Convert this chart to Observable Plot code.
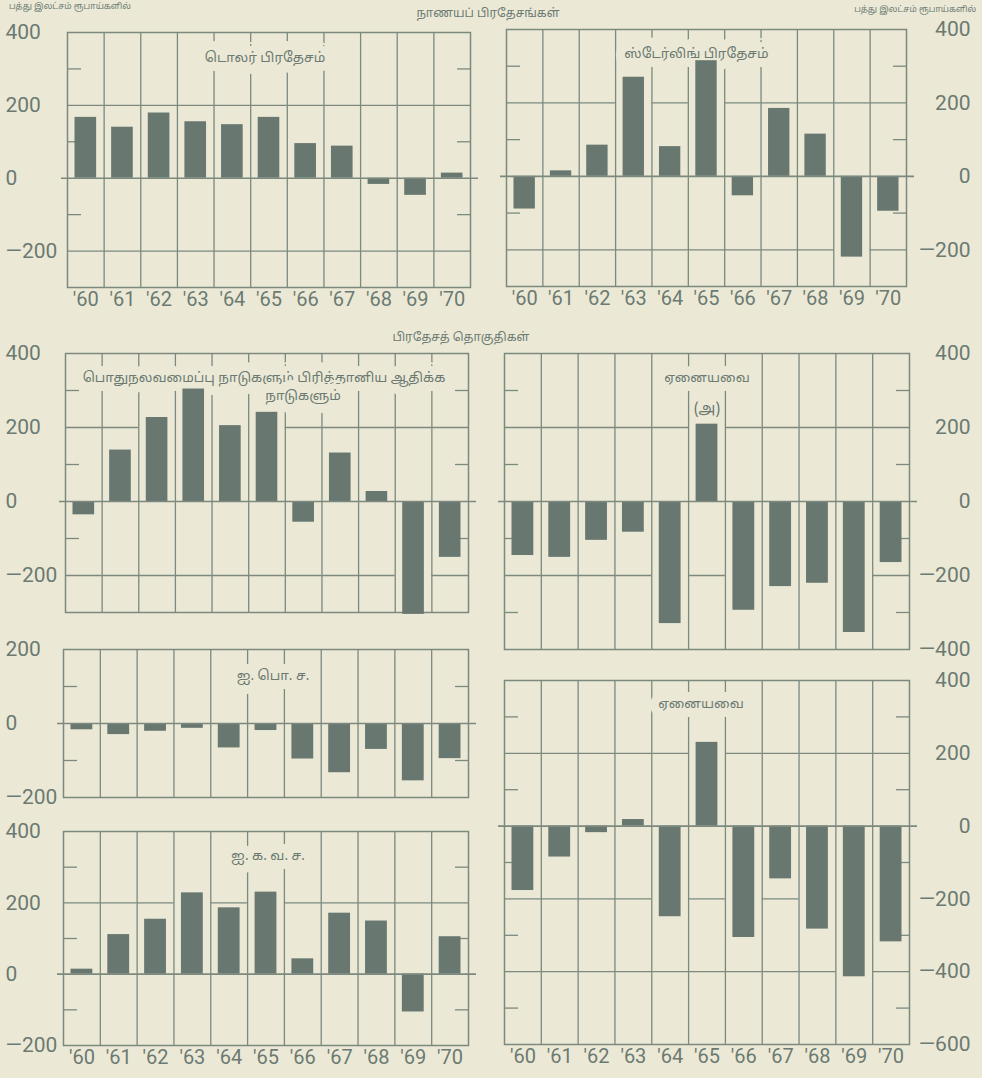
<!DOCTYPE html>
<html>
<head>
<meta charset="utf-8">
<script src="https://cdn.jsdelivr.net/npm/d3@7"></script>
<script src="https://cdn.jsdelivr.net/npm/@observablehq/plot@0.6"></script>
<style>
  html, body { margin: 0; padding: 0; background: #ebe9d6; }
  #page { position: relative; width: 982px; height: 1078px; background: #ebe9d6; overflow: hidden;
          font-family: "Noto Sans Tamil", "Lohit Tamil", "Noto Sans", sans-serif; color: #6b7a72; }
  .hdr { position: absolute; white-space: nowrap; line-height: 1; }
  .panel { position: absolute; }
</style>
</head>
<body>
<div id="page"></div>
<script>
// ---------- data ----------
const years = [1960, 1961, 1962, 1963, 1964, 1965, 1966, 1967, 1968, 1969, 1970];
const yearLabels = ["'60", "'61", "'62", "'63", "'64", "'65", "'66", "'67", "'68", "'69", "'70"];

// currency areas (ten lakhs of rupees)
const dollarArea   = [167, 140, 179, 155, 147, 167, 95, 88, -17, -47, 14];
const sterlingArea = [-89, 15, 85, 270, 81, 315, -53, 185, 115, -220, -95];
// regional groups
const commonwealth = [-36, 139, 227, 304, 205, 241, -56, 131, 27, -305, -151];
const othersA      = [-146, -151, -105, -83, -330, 209, -294, -230, -221, -354, -165];
const eec          = [-17, -30, -21, -13, -66, -19, -96, -133, -70, -155, -95];
const efta         = [14, 111, 154, 228, 186, 230, 43, 171, 149, -106, 105];
const othersB      = [-177, -85, -18, 18, -249, 230, -306, -145, -283, -414, -318];

const unitLabel = "பத்து இலட்சம் ரூபாய்களில்";
const heading1 = "நாணயப் பிரதேசங்கள்";
const heading2 = "பிரதேசத் தொகுதிகள்";
const noteLabel = "(அ)";

// ---------- style ----------
const BG = "#ebe9d6";
const LINE = "#7b897f";
const BAR = "#687770";
const TEXT = "#6b7a72";
const NUMFONT = "Roboto, 'Liberation Sans', sans-serif";
const TAMILFONT = "'Noto Sans Tamil', 'Lohit Tamil', 'Noto Sans', sans-serif";

const page = document.getElementById("page");

function addHeader(text, css) {
  const d = document.createElement("div");
  d.className = "hdr";
  d.textContent = text;
  Object.assign(d.style, css);
  page.appendChild(d);
}
addHeader(unitLabel, {left: "9px", top: "3px", fontSize: "8.5px"});
addHeader(unitLabel, {right: "6px", top: "6px", fontSize: "8.5px"});
addHeader(heading1, {left: "488px", top: "8px", fontSize: "12px", transform: "translateX(-50%)"});
addHeader(heading2, {left: "461px", top: "332px", fontSize: "12px", transform: "translateX(-50%)"});

const fmtY = d => d < 0 ? "\u2014" + Math.abs(d) : String(d);

// layout of each panel: frame [left, top, right, bottom] in page pixels
const panels = [
  {values: dollarArea, titles: [{t: "டொலர் பிரதேசம்", dx: -4, dy: 20}], domain: [-300, 400], side: "left", frame: [67, 32, 470, 287], xAxis: true},
  {values: sterlingArea, titles: [{t: "ஸ்டேர்லிங் பிரதேசம்", dx: -10, dy: 19}], domain: [-300, 400], side: "right", frame: [506, 29, 906, 286], xAxis: true},
  {values: commonwealth, titles: [{t: "பொதுநலவமைப்பு நாடுகளும் பிரித்தானிய ஆதிக்க", dx: -3, dy: 19}, {t: "நாடுகளும்", dx: 36, dy: 37}], domain: [-300, 400], side: "left", frame: [65, 353, 468, 612]},
  {values: othersA, titles: [{t: "ஏனையவை", dx: 0, dy: 19}], domain: [-400, 400], side: "right", frame: [504, 353, 909, 649], note: 5},
  {values: eec, titles: [{t: "ஐ. பொ. ச.", dx: 7, dy: 21}], domain: [-200, 200], side: "left", frame: [63, 649, 468, 797]},
  {values: efta, titles: [{t: "ஐ. க. வ. ச.", dx: 2, dy: 19}], domain: [-200, 400], side: "left", frame: [63, 831, 468, 1045], xAxis: true},
  {values: othersB, titles: [{t: "ஏனையவை", dx: -6, dy: 18}], domain: [-600, 400], side: "right", frame: [504, 680, 909, 1044], xAxis: true}
];

for (const p of panels) {
  const [fl, ft, fr, fb] = p.frame;
  const svgLeft = p.side === "left" ? 0 : 491;
  const svgW = 491;
  const padTop = 16;
  const padBottom = p.xAxis ? 34 : 16;
  const mL = fl - svgLeft;
  const mR = svgLeft + svgW - fr;
  const innerW = fr - fl;
  const [lo, hi] = p.domain;
  const data = years.map((year, i) => ({year, label: yearLabels[i], value: p.values[i]}));

  const hundreds = d3.range(lo, hi + 1, 100);
  const major = hundreds.filter(v => v % 200 === 0);
  const minor = hundreds.filter(v => Math.abs(v % 200) === 100 && v > lo && v < hi);
  const grid = major.filter(v => v !== 0 && v > lo && v < hi);
  const segs = [];
  for (const g of grid) {
    for (const d of data) {
      const crosses = g > 0 ? d.value >= g : d.value <= g;
      if (!crosses) segs.push({g, x1: d.year, x2: d.year + 1});
    }
  }

  const marks = [
    Plot.ruleX(years.slice(1), {stroke: LINE, strokeWidth: 1.3}),
    Plot.ruleY(segs, {y: "g", x1: "x1", x2: "x2", stroke: LINE, strokeWidth: 1.3}),
    Plot.ruleY(minor, {insetRight: innerW - 14, stroke: LINE, strokeWidth: 1.3}),
    Plot.ruleY(minor, {insetLeft: innerW - 13, stroke: LINE, strokeWidth: 1.3}),
    Plot.frame({stroke: LINE, strokeWidth: 1.5}),
    ...p.titles.map(tt => Plot.text([tt.t], {
      text: d => d, frameAnchor: "top", dx: tt.dx, dy: tt.dy,
      fontSize: 13.5, fontFamily: TAMILFONT, fill: TEXT,
      stroke: BG, strokeWidth: 18, strokeLinejoin: "round"
    })),
    Plot.rect(data, {x1: "year", x2: d => d.year + 1, y1: 0, y2: "value", insetLeft: 7.5, insetRight: 7.5, fill: BAR}),
    Plot.ruleY([0], {insetLeft: -6, insetRight: -8, stroke: LINE, strokeWidth: 1.6}),
    Plot.text(major, {
      y: d => d, text: fmtY,
      frameAnchor: p.side === "left" ? "left" : "right",
      textAnchor: p.side === "left" ? "start" : "end",
      dx: p.side === "left" ? -(mL - 5) : (970 - fr),
      fontSize: 21, fontFamily: NUMFONT, fill: TEXT
    })
  ];
  if (p.note !== undefined) {
    const d = data[p.note];
    marks.push(Plot.text([d], {
      x: d => d.year + 0.5, y: "value", text: () => noteLabel, dy: -16,
      fontSize: 15, fontFamily: TAMILFONT, fill: TEXT
    }));
  }
  if (p.xAxis) {
    marks.push(Plot.text(data, {
      x: d => d.year + 0.5, text: "label", frameAnchor: "bottom", dy: 18,
      fontSize: 20, fontFamily: NUMFONT, fill: TEXT
    }));
  }

  const chart = Plot.plot({
    width: svgW,
    height: (fb - ft) + padTop + padBottom,
    marginLeft: mL,
    marginRight: mR,
    marginTop: padTop,
    marginBottom: padBottom,
    x: {domain: [1960, 1971], axis: null},
    y: {domain: p.domain, axis: null},
    style: {background: "transparent", overflow: "visible"},
    marks
  });
  chart.classList.add("panel");
  chart.style.left = svgLeft + "px";
  chart.style.top = (ft - padTop) + "px";
  page.appendChild(chart);
}
</script>
</body>
</html>
